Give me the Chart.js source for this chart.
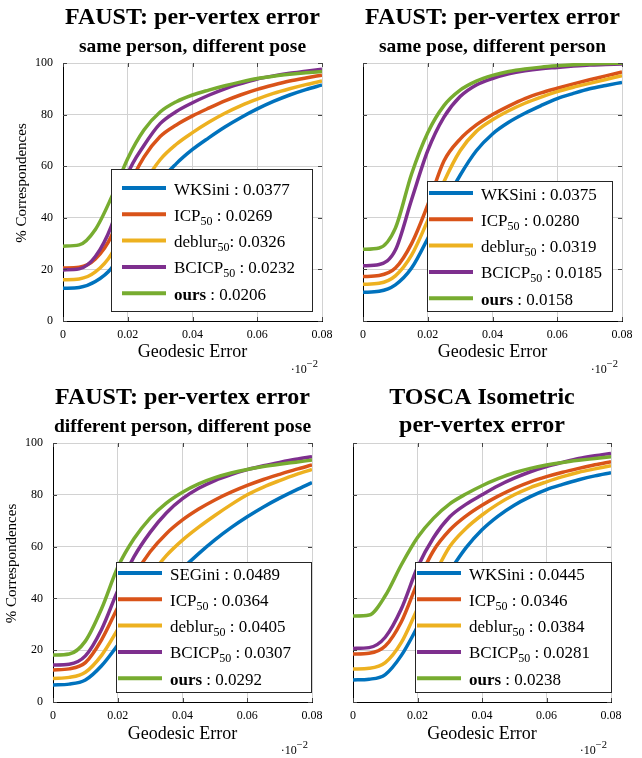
<!DOCTYPE html>
<html>
<head>
<meta charset="utf-8">
<script src="https://cdn.jsdelivr.net/npm/chart.js@4.4.1/dist/chart.umd.min.js"></script>
<style>
  html, body { margin: 0; padding: 0; background: #fff; }
  #wrap { position: relative; width: 642px; height: 758px; overflow: hidden; }
  .panel { position: absolute; }
</style>
</head>
<body>
<div id="wrap">
  <div class="panel" style="left:0;top:0"><canvas id="c1" width="340" height="380"></canvas></div>
  <div class="panel" style="left:340px;top:0"><canvas id="c2" width="302" height="380"></canvas></div>
  <div class="panel" style="left:0;top:380px"><canvas id="c3" width="340" height="378"></canvas></div>
  <div class="panel" style="left:340px;top:380px"><canvas id="c4" width="302" height="378"></canvas></div>
</div>
<script>
"use strict";

// geodesic error thresholds (x axis)
const errorSteps = [0, 0.005, 0.01, 0.015, 0.02, 0.025, 0.03, 0.035, 0.04, 0.045, 0.05, 0.055, 0.06, 0.065, 0.07, 0.075, 0.08];
const xTicks = [0, 0.02, 0.04, 0.06, 0.08];
const yTicks = [0, 20, 40, 60, 80, 100];

const methodNames = ['WKSini', 'ICP', 'deblur', 'BCICP', 'ours'];
const methodNamesSeg = ['SEGini', 'ICP', 'deblur', 'BCICP', 'ours'];
const methodSubs = ['', '50', '50', '50', ''];
const methodColors = ['#0072BD', '#D95319', '#EDB120', '#7E2F8E', '#77AC30'];

// FAUST same person, different pose
const poseScores = [0.0377, 0.0269, 0.0326, 0.0232, 0.0206];
const poseWKS    = [12.7, 13, 15.3, 20.5, 31, 43, 54, 61, 66.5, 71, 75.2, 78.9, 82.2, 85.1, 87.6, 89.7, 91.5];
const poseICP    = [20.5, 20.8, 24, 33, 51, 63.5, 71.5, 76, 79.5, 82.5, 85.3, 87.7, 89.8, 91.5, 93, 94.2, 95.3];
const poseDeblur = [16, 16.3, 19, 26, 40, 53, 62.5, 68.5, 73, 77, 80.5, 83.5, 86, 88.2, 90, 91.6, 93];
const poseBCICP  = [19.8, 20.2, 25, 37, 57, 68, 76.5, 81.2, 84.6, 87.5, 90, 92, 93.8, 95, 96, 96.8, 97.6];
const poseOurs   = [29, 29.5, 35.5, 48, 63, 74, 81, 85, 87.6, 89.5, 91.2, 92.7, 94, 94.9, 95.6, 96.2, 96.7];

// FAUST same pose, different person
const personScores = [0.0375, 0.0280, 0.0319, 0.0185, 0.0158];
const personWKS    = [11.1, 11.5, 14, 20.5, 32, 45, 56.5, 66, 72.5, 77, 80.5, 83.5, 86.2, 88.2, 90, 91.3, 92.5];
const personICP    = [17.2, 17.6, 20.5, 30, 45, 62, 70.5, 76, 80, 83.3, 86.2, 88.4, 90.2, 91.9, 93.5, 95, 96.5];
const personDeblur = [14.2, 14.6, 17.5, 25.5, 39, 54, 66, 73.5, 78, 81.5, 84.4, 86.8, 88.9, 90.6, 92.1, 93.6, 95.1];
const personBCICP  = [21.4, 21.9, 27.5, 47, 66, 79, 87, 91.5, 94, 95.8, 97, 97.8, 98.3, 98.8, 99.2, 99.4, 99.6];
const personOurs   = [27.8, 28.3, 36, 57, 73, 83.5, 89.5, 93, 95.2, 96.7, 97.7, 98.4, 98.9, 99.3, 99.6, 99.8, 99.9];

// FAUST different person, different pose
const bothScores = [0.0489, 0.0364, 0.0405, 0.0307, 0.0292];
const bothSEG    = [6.6, 6.9, 8.5, 14, 22, 30.5, 38, 45, 51.5, 57.3, 62.6, 67.3, 71.5, 75.3, 78.7, 81.8, 84.7];
const bothICP    = [12.4, 12.8, 15.2, 24, 36.5, 48.5, 58, 65, 70.3, 74.5, 78, 81, 83.6, 85.9, 87.9, 89.8, 91.5];
const bothDeblur = [9.1, 9.5, 11.5, 18, 28, 39, 48.5, 56.5, 62.5, 67.5, 72, 76.2, 80, 83, 85.5, 87.8, 89.8];
const bothBCICP  = [14.3, 14.6, 17.8, 28, 43, 56, 65.5, 73, 78.5, 82.5, 85.5, 87.8, 89.7, 91.2, 92.5, 93.7, 94.7];
const bothOurs   = [18.1, 18.5, 23.5, 36, 52, 63, 71, 76.8, 81, 84.2, 86.6, 88.4, 89.8, 90.9, 91.8, 92.6, 93.4];

// TOSCA isometric
const toscaScores = [0.0445, 0.0346, 0.0384, 0.0281, 0.0238];
const toscaWKS    = [8.5, 8.8, 10.6, 18, 29, 40.5, 50.5, 59.5, 66.5, 71.8, 76, 79.3, 82, 84, 85.8, 87.3, 88.5];
const toscaICP    = [18.5, 18.8, 21.6, 31, 46, 58.5, 66.4, 71.8, 76, 79.5, 82.5, 85, 87, 88.7, 90.2, 91.6, 92.8];
const toscaDeblur = [12.7, 13, 15.2, 23, 36, 48.5, 60, 67, 72.2, 76.5, 80, 82.8, 85, 87, 88.7, 90, 91.2];
const toscaBCICP  = [20.7, 21, 25, 36, 52, 63.5, 71.5, 76.3, 80, 83.5, 86.4, 88.9, 90.9, 92.5, 94, 95.1, 96];
const toscaOurs   = [33.2, 33.6, 41, 53, 63.5, 71, 76.5, 80.3, 83.5, 86.2, 88.5, 90.2, 91.5, 92.5, 93.3, 94, 94.7];

const serif = "'Liberation Serif', 'Times New Roman', serif";

const panels = [
  {
    id: 'c1', titles: ['FAUST: per-vertex error'], subtitle: 'same person, different pose',
    names: methodNames, scores: poseScores, noSpaceColon: 2,
    series: [poseWKS, poseICP, poseDeblur, poseBCICP, poseOurs],
    yLabels: true, padding: {left: 0, top: 63, right: 18, bottom: 0}, yWidth: 63, xHeight: 59, xTitlePad: 17,
    legend: {right: 9, bottom: 9, width: 202, height: 143, inset: 11, first: 19}
  },
  {
    id: 'c2', titles: ['FAUST: per-vertex error'], subtitle: 'same pose, different person',
    names: methodNames, scores: personScores, noSpaceColon: -1,
    series: [personWKS, personICP, personDeblur, personBCICP, personOurs],
    yLabels: false, padding: {left: 23, top: 63, right: 20, bottom: 0}, yWidth: 0, xHeight: 59, xTitlePad: 17,
    legend: {right: 9, bottom: 9, width: 186, height: 131, inset: 2, first: 12}
  },
  {
    id: 'c3', titles: ['FAUST: per-vertex error'], subtitle: 'different person, different pose',
    names: methodNamesSeg, scores: bothScores, noSpaceColon: -1,
    series: [bothSEG, bothICP, bothDeblur, bothBCICP, bothOurs],
    yLabels: true, padding: {left: 0, top: 63, right: 28, bottom: 0}, yWidth: 53, xHeight: 56, xTitlePad: 13,
    legend: {right: 0, bottom: 9, width: 196, height: 131, inset: 2, first: 11}
  },
  {
    id: 'c4', titles: ['TOSCA Isometric', 'per-vertex error'], subtitle: null,
    names: methodNames, scores: toscaScores, noSpaceColon: -1,
    series: [toscaWKS, toscaICP, toscaDeblur, toscaBCICP, toscaOurs],
    yLabels: false, padding: {left: 13, top: 63, right: 31, bottom: 0}, yWidth: 0, xHeight: 56, xTitlePad: 13,
    legend: {right: -1, bottom: 9, width: 197, height: 131, inset: 2, first: 11}
  }
];

// titles, inner tick marks, legend box and the x10^-2 note
const panelDecor = {
  id: 'panelDecor',
  afterDatasetsDraw(chart, args, p) {
    const {ctx, chartArea: a, scales} = chart;
    const cx = (a.left + a.right) / 2;
    ctx.save();

    // small inner ticks
    ctx.strokeStyle = '#444';
    ctx.lineWidth = 1;
    ctx.beginPath();
    yTicks.forEach(v => {
      const y = Math.round(scales.y.getPixelForValue(v)) + 0.5;
      ctx.moveTo(a.left, y); ctx.lineTo(a.left + 4, y);
      ctx.moveTo(a.right, y); ctx.lineTo(a.right - 4, y);
    });
    xTicks.forEach(v => {
      const x = Math.round(scales.x.getPixelForValue(v)) + 0.5;
      ctx.moveTo(x, a.bottom); ctx.lineTo(x, a.bottom - 4);
      ctx.moveTo(x, a.top); ctx.lineTo(x, a.top + 4);
    });
    ctx.stroke();

    // titles
    ctx.fillStyle = '#000';
    ctx.textAlign = 'center';
    ctx.textBaseline = 'alphabetic';
    ctx.font = 'bold 24px ' + serif;
    ctx.fillText(p.titles[0], cx, a.top - 39);
    if (p.titles[1]) ctx.fillText(p.titles[1], cx, a.top - 11);
    if (p.subtitle) {
      ctx.font = 'bold 19.5px ' + serif;
      ctx.fillText(p.subtitle, cx, a.top - 11);
    }

    // y axis title (sits a little above the middle, as in the source figure)
    if (p.yLabels) {
      ctx.save();
      ctx.translate(a.left - 41, (a.top + a.bottom) / 2 - 9);
      ctx.rotate(-Math.PI / 2);
      ctx.textBaseline = 'middle';
      ctx.font = '15px ' + serif;
      ctx.fillText('% Correspondences', 0, 0);
      ctx.restore();
    }

    // legend
    const L = p.legend;
    const right = a.right - L.right, bottom = a.bottom - L.bottom;
    const left = right - L.width, top = bottom - L.height;
    ctx.fillStyle = '#fff';
    ctx.fillRect(left, top, L.width, L.height);
    ctx.strokeStyle = '#262626';
    ctx.lineWidth = 1;
    ctx.strokeRect(Math.round(left) + 0.5, Math.round(top) + 0.5, L.width - 1, L.height - 1);
    ctx.textAlign = 'left';
    chart.data.datasets.forEach((ds, i) => {
      const y = top + L.first + i * 26.3;
      ctx.strokeStyle = ds.borderColor;
      ctx.lineWidth = 4;
      ctx.beginPath();
      ctx.moveTo(left + L.inset, y);
      ctx.lineTo(left + L.inset + 44, y);
      ctx.stroke();
      let x = left + L.inset + 52;
      const base = y + 6.5;
      ctx.fillStyle = '#000';
      ctx.font = (p.names[i] === 'ours' ? 'bold ' : '') + '17px ' + serif;
      ctx.fillText(p.names[i], x, base);
      x += ctx.measureText(p.names[i]).width;
      if (methodSubs[i]) {
        ctx.font = '12px ' + serif;
        ctx.fillText(methodSubs[i], x, base + 4);
        x += ctx.measureText(methodSubs[i]).width;
      }
      ctx.font = '17px ' + serif;
      const rest = (p.noSpaceColon === i ? ': ' : ' : ') + p.scores[i].toFixed(4);
      ctx.fillText(rest, x, base);
    });

    // x10^-2 note
    ctx.font = '12px ' + serif;
    const w1 = ctx.measureText('\u00b710').width;
    ctx.font = '10.5px ' + serif;
    const w2 = ctx.measureText('\u22122').width;
    const nx = a.right - 4 - w1 - w2;
    const ny = a.bottom + 52;
    ctx.font = '12px ' + serif;
    ctx.fillText('\u00b710', nx, ny);
    ctx.font = '10.5px ' + serif;
    ctx.fillText('\u22122', nx + w1, ny - 6);
    ctx.restore();
  }
};

function makeChart(p) {
  const datasets = p.series.map((vals, i) => ({
    label: p.names[i],
    data: errorSteps.map((e, k) => ({x: e, y: vals[k]})),
    borderColor: methodColors[i],
    backgroundColor: methodColors[i],
    borderWidth: 3.5,
    pointRadius: 0,
    cubicInterpolationMode: 'monotone',
    fill: false,
    order: p.series.length - 1 - i
  }));

  new Chart(document.getElementById(p.id), {
    type: 'line',
    data: {datasets},
    plugins: [panelDecor],
    options: {
      responsive: false,
      animation: false,
      devicePixelRatio: 1,
      layout: {padding: p.padding},
      plugins: {
        legend: {display: false},
        tooltip: {enabled: false},
        panelDecor: p
      },
      scales: {
        x: {
          type: 'linear', min: 0, max: 0.08,
          border: {color: '#000', width: 1},
          grid: {color: '#d2d2d2', drawTicks: false},
          afterBuildTicks: s => { s.ticks = xTicks.map(v => ({value: v})); },
          ticks: {
            padding: 7, color: '#000', maxRotation: 0, autoSkip: false,
            font: {family: serif, size: 12},
            callback: v => v === 0 ? '0' : v.toFixed(2)
          },
          title: {
            display: true, text: 'Geodesic Error', color: '#000',
            font: {family: serif, size: 18},
            padding: {top: 0, bottom: p.xTitlePad}
          },
          afterFit: s => { s.height = p.xHeight; s.paddingLeft = 0; s.paddingRight = 0; }
        },
        y: {
          type: 'linear', min: 0, max: 100,
          border: {color: '#000', width: 1},
          grid: {color: '#d2d2d2', drawTicks: false},
          afterBuildTicks: s => { s.ticks = yTicks.map(v => ({value: v})); },
          ticks: {
            display: p.yLabels, padding: 10, color: '#000',
            font: {family: serif, size: 12}
          },
          title: {display: false},
          afterFit: s => { s.width = p.yWidth; s.paddingTop = 0; s.paddingBottom = 0; }
        }
      }
    }
  });
}

panels.forEach(makeChart);
</script>
</body>
</html>
